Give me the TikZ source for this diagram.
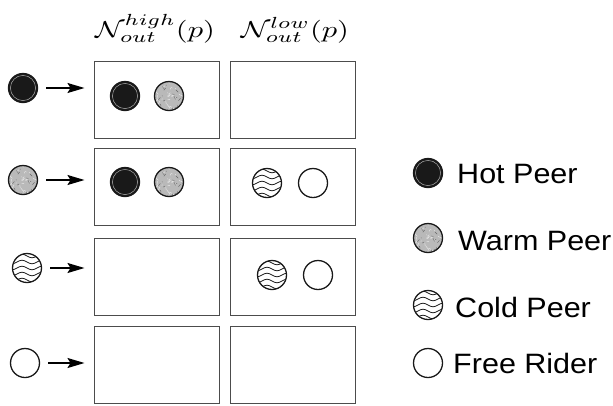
\documentclass[tikz,border=0pt]{standalone}
\usepackage[no-math]{fontspec}
\newfontfamily\legendfont{Liberation Sans}
\usetikzlibrary{arrows.meta}

\begin{document}
\begin{tikzpicture}[x=1pt,y=-1pt,
  peer/.style={circle, draw=black!90, line width=1.3pt, minimum size=29pt, inner sep=0pt},
  hot/.style={peer, fill=black!90,
    path picture={\draw[gray!70, line width=0.5pt]
      (path picture bounding box.center) circle[radius=12.6pt];}},
  warm/.style={peer, fill=gray!55,
    path picture={
      \pgfmathsetseed{7}
      \foreach \i in {1,...,40}{
        \pgfmathsetmacro\ax{14*rand}
        \pgfmathsetmacro\ay{14*rand}
        \draw[gray!20, line width=0.5pt]
          ([xshift=\ax pt, yshift=\ay pt]path picture bounding box.center)
          -- ++({3*rand},{3*rand});
      }
      \foreach \i in {1,...,20}{
        \pgfmathsetmacro\ax{14*rand}
        \pgfmathsetmacro\ay{14*rand}
        \draw[gray!80!black, line width=0.4pt]
          ([xshift=\ax pt, yshift=\ay pt]path picture bounding box.center)
          -- ++({2.5*rand},{2.5*rand});
      }}},
  cold/.style={peer, fill=white,
    path picture={
      \foreach \k in {-2,...,2}{
        \draw[line width=0.8pt]
          ([xshift=-20pt, yshift=\k*6pt]path picture bounding box.center)
          sin ++(5,1.8) cos ++(5,-1.8) sin ++(5,-1.8) cos ++(5,1.8)
          sin ++(5,1.8) cos ++(5,-1.8) sin ++(5,-1.8) cos ++(5,1.8);
      }}},
  free/.style={peer, fill=white},
  cell/.style={draw=black!70, line width=1pt, minimum width=125pt,
    minimum height=77pt, inner sep=0pt},
  feed/.style={-{Stealth[length=17pt,width=10pt,inset=3pt]}, line width=1.6pt,
    shorten <=8pt, shorten >=9.5pt},
  legend/.style={anchor=base west, inner sep=0pt, xscale=1.09,
    font=\legendfont\fontsize{28}{33}\selectfont},
  heading/.style={anchor=base, inner sep=0pt, xscale=3.05, yscale=2.3}
]
\useasboundingbox (0,0) rectangle (613,405);

% column headings
\node[heading] (th) at (155,37) {$\mathcal{N}^{high}_{out}(p)$};
\node[heading] (tl) at (295,37) {$\mathcal{N}^{low}_{out}(p)$};

% neighbour sets, one row per peer class
\node[cell] (h1) at (157,100)   {};
\node[cell] (l1) at (293,100)   {};
\node[cell] (h2) at (157,187)   {};
\node[cell] (l2) at (293,187)   {};
\node[cell] (h3) at (157,276.5) {};
\node[cell] (l3) at (293,276.5) {};
\node[cell] (h4) at (157,364.5) {};
\node[cell] (l4) at (293,364.5) {};

% peer classes on the left
\node[hot]  (p1) at (23,88)  {};
\node[warm] (p2) at (23,180) {};
\node[cold] (p3) at (27,268) {};
\node[free] (p4) at (25,363) {};

\draw[feed] (p1) -- (p1 -| h1.west);
\draw[feed] (p2) -- (p2 -| h2.west);
\draw[feed] (p3) -- (p3 -| h3.west);
\draw[feed] (p4) -- (p4 -| h4.west);

% members of each neighbour set
\node[hot]  (h1a) at (125,96)  {};
\node[warm] (h1b) at (169,96)  {};
\node[hot]  (h2a) at (125,182) {};
\node[warm] (h2b) at (169,182) {};
\node[cold] (l2a) at (267,183) {};
\node[free] (l2b) at (313,183) {};
\node[cold] (l3a) at (272,275) {};
\node[free] (l3b) at (318,275) {};

% legend
\node[hot]  (k1) at (428,173) {};
\node[warm] (k2) at (428,238) {};
\node[cold] (k3) at (428,305) {};
\node[free] (k4) at (428,363) {};
\node[legend] (t1) at (457,183) {Hot Peer};
\node[legend] (t2) at (458,250) {Warm Peer};
\node[legend] (t3) at (455,317) {Cold Peer};
\node[legend] (t4) at (453,373) {Free Rider};
\end{tikzpicture}
\end{document}
